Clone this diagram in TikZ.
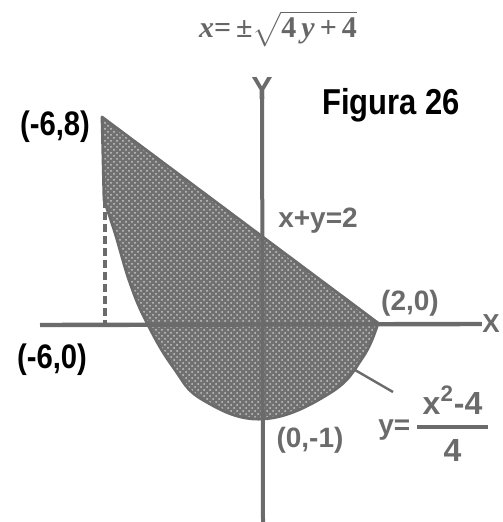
\documentclass[tikz,border=0pt]{standalone}
\usepackage{fontspec}
\usepackage{amsmath}
\newfontfamily\condbold[FakeStretch=0.86]{Liberation Sans}
\newfontfamily\graysans{Liberation Sans}
\newfontfamily\eqserif{Liberation Serif}
\newcommand{\topeq}{{\eqserif\bfseries\itshape x}{\eqserif\bfseries =\,±}$\sqrt{\hbox{\eqserif\bfseries 4\,{\itshape y}\,+\,4}}$}
\usetikzlibrary{patterns}
\colorlet{axisgray}{black!58}
\begin{document}
\begin{tikzpicture}[x=0.5pt, y=-0.5pt, every node/.style={inner sep=0pt, text=axisgray}]
  \useasboundingbox (0,0) rectangle (502,522);
  % region between the line and the parabola
  \path[fill=black!56] (102,117) -- plot[smooth, tension=0.7] coordinates {(378,323) (363,357) (330,393) (263,419) (203,400) (173,367) (147,323) (130,283) (115,233) (104,200)} -- cycle;
  \path[pattern=crosshatch dots, pattern color=white!78!black] (102,117) -- plot[smooth, tension=0.7] coordinates {(378,323) (363,357) (330,393) (263,419) (203,400) (173,367) (147,323) (130,283) (115,233) (104,200)} -- cycle;
  \draw[axisgray, line width=1.4pt, line join=round] (102,117) -- plot[smooth, tension=0.7] coordinates {(378,323) (363,357) (330,393) (263,419) (203,400) (173,367) (147,323) (130,283) (115,233) (104,200)} -- cycle;
  \draw[axisgray, line width=2pt, dashed, dash pattern=on 4pt off 2pt] (105,200) -- (105,323);
  % axes
  \node[font=\graysans\bfseries\fontsize{13}{13}\selectfont] (xlab) at (491,324) {X};
  \node[font=\graysans\bfseries\fontsize{16}{16}\selectfont] (ylab) at (262,88) {Y};
  \coordinate (xleft) at (40,325);
  \coordinate (ybot) at (263,522);
  \draw[axisgray, line width=2.2pt] (xleft) -- (xlab.west);
  \draw[axisgray, line width=2pt] (ylab.south) ++(0,-3) -- (ybot);
  % labels
  \node[text=black!60, font=\fontsize{15}{15}\selectfont] (eq) at (278,29) {\topeq};
  \node[text=black, font=\condbold\bfseries\fontsize{18}{18}\selectfont] (fig) at (391,105) {Figura 26};
  \node[text=black, font=\condbold\bfseries\fontsize{17}{17}\selectfont] (p68) at (55,127) {(-6,8)};
  \node[text=black, font=\condbold\bfseries\fontsize{17}{17}\selectfont] (p60) at (52,360) {(-6,0)};
  \node[font=\graysans\bfseries\fontsize{14}{14}\selectfont] (line) at (318,221) {x+y=2};
  \node[font=\graysans\bfseries\fontsize{14}{14}\selectfont] (p20) at (410,303) {(2,0)};
  \node[font=\graysans\bfseries\fontsize{14}{14}\selectfont] (p01) at (310,440) {(0,-1)};
  \node[font=\graysans\bfseries\fontsize{14}{14}\selectfont, anchor=west] (parab) at (378,424)
    {y=\,$\genfrac{}{}{1.8pt}{0}{\hbox{\graysans\bfseries\fontsize{16}{16}\selectfont\,x\textsuperscript{2}-4\,}}{\hbox{\graysans\bfseries\fontsize{16}{16}\selectfont 4}}$};
  \coordinate (leadA) at (355,370);
  \coordinate (leadB) at (393,392);
  \draw[axisgray, line width=1.2pt] (leadA) -- (leadB);
\end{tikzpicture}
\end{document}
